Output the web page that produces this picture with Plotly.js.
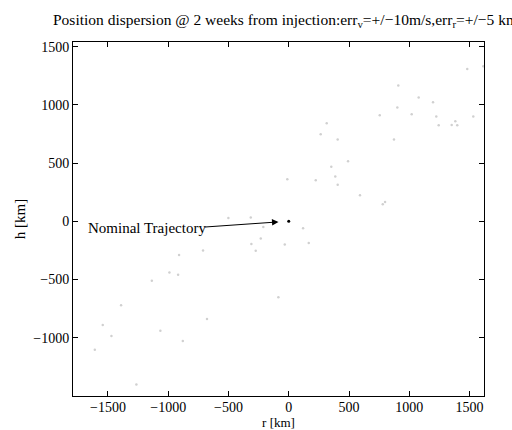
<!DOCTYPE html>
<html>
<head>
<meta charset="utf-8">
<script src="https://cdn.plot.ly/plotly-3.0.1.min.js"></script>
<style>html,body{margin:0;padding:0;background:#fff;}#chart{width:512px;height:430px;}</style>
</head>
<body>
<div id="chart"></div>
<script>
// Dispersed trajectories: radial (r) and along-track height (h) offsets, km
const rValues = [-910, -711, -990, -918, -1136, -1391, -1543, -1471, -1609, -1065, -879, -678, -1264,
  -501, -315, -211, -232, -310, -274, 119, -33, 166, -86,
  1481, 1614, 909, 1078, 1197, 901, 755, 1020, 1224, 1244, 1382, 1352, 1398, 1531,
  315, 265, 406, 873, 492, 353, 386, 224, 406, 591, 799, 780, -12];
const hValues = [-290, -250, -440, -459, -511, -721, -890, -985, -1103, -940, -1028, -839, -1402,
  29, 32, -48, -147, -195, -253, -60, -198, -186, -652,
  1308, 1331, 1167, 1064, 1023, 978, 911, 920, 900, 825, 859, 828, 825, 900,
  842, 747, 702, 702, 517, 469, 385, 353, 314, 224, 167, 147, 362];
const nominalR = [0];
const nominalH = [0];
const xTicks = [-1500, -1000, -500, 0, 500, 1000, 1500];
const yTicks = [-1000, -500, 0, 500, 1000, 1500];

const serif = 'Liberation Serif';

const traces = [
  {x: rValues, y: hValues, type: 'scatter', mode: 'markers',
   marker: {size: 2.5, color: '#d0d0d0'}, hoverinfo: 'skip'},
  {x: nominalR, y: nominalH, type: 'scatter', mode: 'markers',
   marker: {size: 3, color: '#000'}, hoverinfo: 'skip'}
];

function axisBase() {
  return {
    showgrid: false, zeroline: false, showline: true, linecolor: '#000', linewidth: 1,
    mirror: 'ticks', ticks: 'inside', ticklen: 5, tickcolor: '#000', tickwidth: 1,
    tickfont: {family: serif, size: 14, color: '#000'}
  };
}

const layout = {
  width: 512, height: 430,
  margin: {l: 73, r: 28, t: 42, b: 34},
  paper_bgcolor: '#fff', plot_bgcolor: '#fff',
  showlegend: false,
  font: {family: serif, size: 14, color: '#000'},
  xaxis: Object.assign(axisBase(), {
    range: [-1790, 1620], tickvals: xTicks, ticklabelstandoff: -2,
    title: {text: 'r [km]', font: {family: serif, size: 13, color: '#000'}, standoff: 0}
  }),
  yaxis: Object.assign(axisBase(), {
    range: [-1500, 1540], tickvals: yTicks,
    title: {text: 'h [km]', font: {family: serif, size: 15, color: '#000'}, standoff: 4}
  }),
  annotations: [
    {x: (51 - 73) / 411, y: 1 + (42 - 20) / 354, xref: 'paper', yref: 'paper',
     text: 'Position dispersion @ 2 weeks from injection:err<sub>v</sub>=+/\u221210m/s,err<sub>r</sub>=+/\u22125 km',
     showarrow: false, xanchor: 'left', yanchor: 'middle',
     font: {family: serif, size: 15.5, color: '#000'}},
    {x: -85, y: -5, ax: -710, ay: -50, xref: 'x', yref: 'y', axref: 'x', ayref: 'y',
     text: '', showarrow: true, arrowhead: 2, arrowsize: 1.3, arrowwidth: 1, arrowcolor: '#000'},
    {x: -1680, y: -54, xref: 'x', yref: 'y', text: 'Nominal Trajectory', showarrow: false,
     xanchor: 'left', yanchor: 'middle', font: {family: serif, size: 15, color: '#000'}}
  ]
};

Plotly.newPlot('chart', traces, layout, {displayModeBar: false, staticPlot: true});
</script>
</body>
</html>
